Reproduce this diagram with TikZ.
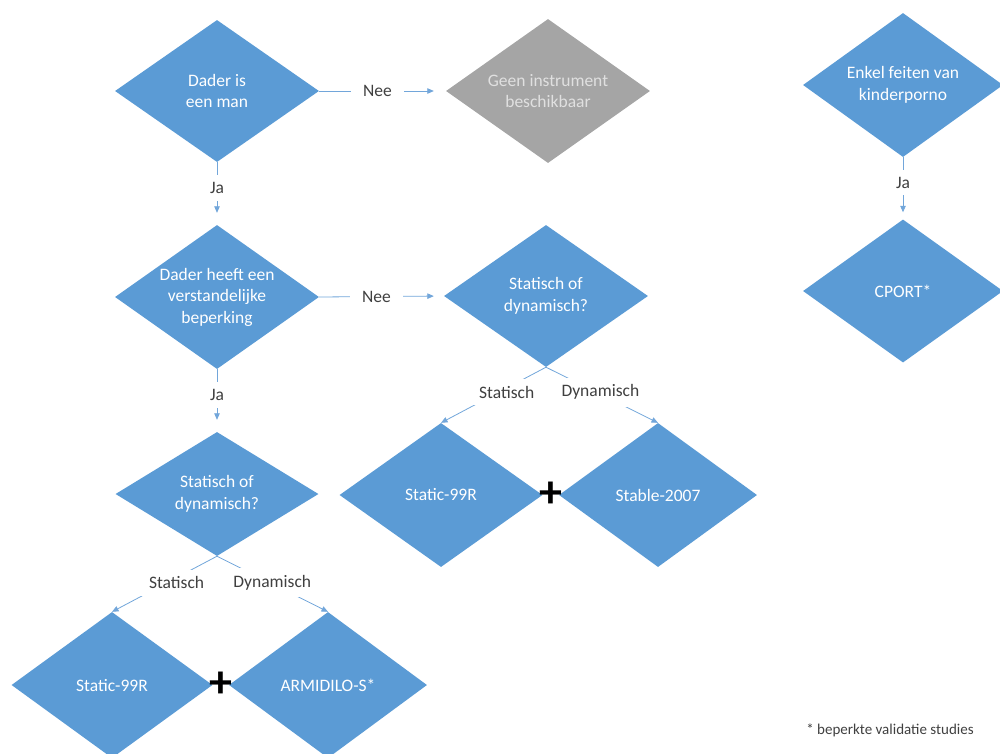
\documentclass[tikz,border=0pt]{standalone}
\usepackage{fontspec}
\setmainfont{Carlito}
\usetikzlibrary{shapes.geometric,arrows.meta}
\definecolor{vakblauw}{HTML}{5B9BD5}
\definecolor{vakgrijs}{HTML}{A5A5A5}
\definecolor{lijnblauw}{HTML}{72A6DA}
\definecolor{tekstgrijs}{HTML}{404040}

\begin{document}
\begin{tikzpicture}[x=1pt, y=-1pt,
    ruit/.style={diamond, aspect=1.42, fill=vakblauw, text=white, align=center,
        inner sep=0pt, minimum width=204pt, minimum height=144pt,
        font=\fontsize{17.5}{21.5}\selectfont},
    pijl/.style={draw=lijnblauw, line width=0.8pt, -{Triangle[length=6.5pt,width=5.5pt]}},
    keuze/.style={fill=white, text=tekstgrijs, inner xsep=12pt, inner ysep=7pt,
        font=\fontsize{17.5}{21}\selectfont},
    plusteken/.style={inner sep=0pt, font=\fontsize{46}{46}\bfseries\selectfont}]
    \useasboundingbox (0,0) rectangle (1000,753);
    \clip (0,0) rectangle (1000,753);
    % linker kolom
    \node[ruit, minimum height=142pt] (man) at (217,91) {Dader is\\een man};
    \node[ruit, fill=vakgrijs, text=white!88!black] (geen) at (548,91) {Geen instrument\\beschikbaar};
    \node[ruit] (verstand) at (217,297) {Dader heeft een\\verstandelijke\\beperking};
    \node[ruit, minimum height=142pt] (keuzeA) at (546,296) {Statisch of\\dynamisch?};
    \node[ruit, minimum width=203pt, minimum height=124pt] (keuzeB) at (217,494) {Statisch of\\dynamisch?};
    \node[ruit, minimum width=201pt, minimum height=146pt] (staticB) at (112,685) {Static-99R};
    \node[ruit, minimum width=198pt, minimum height=146pt] (armidilo) at (328,685) {ARMIDILO-S*};
    \node[ruit, minimum width=203pt] (staticA) at (441,495) {Static-99R};
    \node[ruit, minimum width=198pt] (stable) at (658,495) {Stable-2007};
    \node[plusteken] (plusA) at (551,495) {+};
    \node[plusteken] (plusB) at (221,685) {+};
    % rechter kolom
    \node[ruit, minimum width=200pt] (enkel) at (903,85) {Enkel feiten van\\kinderporno};
    \node[ruit, minimum width=200pt, minimum height=143pt] (cport) at (903,291) {CPORT*};
    % verbindingen
    \draw[pijl, shorten >=12pt] (man.east) -- node[keuze, pos=.46] {Nee} (geen.west);
    \draw[pijl, shorten >=12pt] (man.south) -- node[keuze, pos=.41] {Ja} (verstand.north);
    \draw[pijl, shorten >=10pt] (verstand.east) -- node[keuze, pos=.46] {Nee} (keuzeA.west);
    \draw[pijl, shorten >=12pt] (verstand.south) -- node[keuze, pos=.41] {Ja} (keuzeB.north);
    \draw[pijl] (keuzeA.south) -- node[keuze, pos=.45, xshift=8pt] {Statisch} (staticA.north);
    \draw[pijl] (keuzeA.south) -- node[keuze, pos=.45, xshift=4pt] {Dynamisch} (stable.north);
    \draw[pijl] (keuzeB.south) -- node[keuze, pos=.48, xshift=10pt] {Statisch} (staticB.north);
    \draw[pijl] (keuzeB.south) -- node[keuze, pos=.48, xshift=2pt] {Dynamisch} (armidilo.north);
    \draw[pijl, shorten >=7pt] (enkel.south) -- node[keuze, pos=.41] {Ja} (cport.north);
    \node[text=tekstgrijs, font=\fontsize{15}{18}\selectfont] (voetnoot) at (890,730) {* beperkte validatie studies};
\end{tikzpicture}
\end{document}
